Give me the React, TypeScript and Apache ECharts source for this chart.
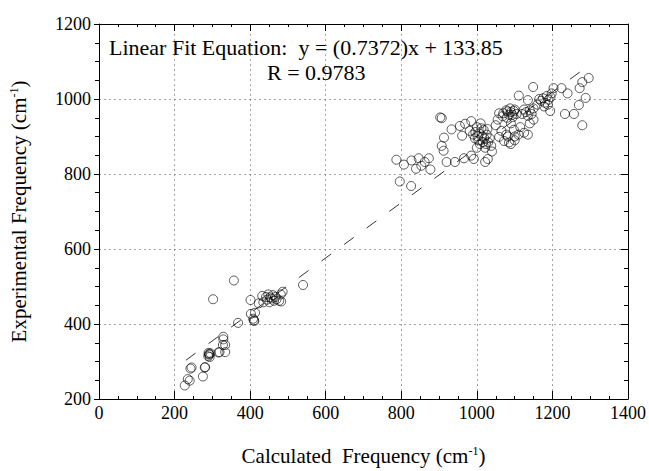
import React, { useEffect, useRef } from "react";
import * as echarts from "echarts";

const xTicks = [0, 200, 400, 600, 800, 1000, 1200, 1400];
const yTicks = [200, 400, 600, 800, 1000, 1200];

const lowCluster: number[][] = [
  [227, 236], [235, 253], [240, 249], [242, 281], [245, 284], [275, 260], [281, 285], [280, 284],
  [289, 314], [292, 318], [295, 322], [291, 320], [293, 312], [290, 323], [316, 324], [319, 325],
  [334, 325], [329, 359], [329, 366], [328, 344], [334, 344], [302, 466], [357, 516], [368, 403],
  [401, 464], [402, 427], [408, 414], [410, 410], [411, 408], [413, 430], [423, 455], [432, 475],
  [442, 472], [448, 479], [453, 471], [460, 477], [467, 472], [470, 466], [451, 458], [435, 458],
  [477, 462], [482, 460], [486, 486], [481, 479], [457, 468], [463, 462], [445, 465], [540, 504],
];

const midCluster: number[][] = [
  [796, 780], [826, 768], [787, 838], [807, 825], [827, 836], [839, 814], [846, 842], [862, 832],
  [873, 842], [877, 812], [853, 822], [903, 951], [907, 949], [913, 897], [907, 875], [912, 862],
  [920, 832], [933, 919], [942, 832], [955, 928], [961, 902], [966, 842], [969, 934], [981, 915],
  [985, 941], [985, 849], [992, 840], [1029, 840], [1022, 832], [990, 905], [996, 912], [1000, 925],
  [1004, 890], [1008, 880], [1010, 935], [1014, 900], [1018, 918], [1022, 870], [1026, 905], [1030, 885],
  [1034, 895], [1000, 870], [995, 895], [1006, 908], [1012, 922], [1020, 895], [1028, 920], [1038, 875],
  [1040, 860], [1002, 900], [1016, 885], [1024, 880], [1059, 899], [1072, 888], [1085, 884], [1100, 890],
  [1068, 954], [1081, 967], [1094, 958], [1059, 962], [1055, 945], [1050, 930], [1065, 915], [1078, 905],
];

const highCluster: number[][] = [
  [1149, 1032], [1111, 1009], [1135, 997], [1203, 1029], [1224, 1029], [1240, 1015], [1233, 960],
  [1257, 960], [1279, 930], [1270, 984], [1288, 1003], [1272, 1029], [1279, 1045], [1296, 1056],
  [1194, 968], [1198, 1015], [1170, 995], [1175, 1002], [1180, 990], [1185, 1008], [1190, 998],
  [1160, 985], [1165, 1000], [1178, 980], [1188, 985], [1195, 1005], [1120, 960], [1130, 965],
  [1140, 970], [1150, 975], [1135, 955], [1145, 960], [1125, 972], [1070, 962], [1078, 970],
  [1085, 958], [1090, 965], [1095, 952], [1100, 972], [1105, 960], [1080, 950], [1088, 975],
  [1098, 968], [1090, 935], [1098, 918], [1110, 905], [1135, 905], [1125, 910], [1100, 900],
  [1082, 900], [1090, 880], [1115, 925], [1140, 935], [1150, 945],
];

const fitLine: number[][] = [
  [230, 303.4],
  [1290, 1084.8],
];

const equationText = "Linear Fit Equation:  y = (0.7372)x + 133.85";
const rText = "R = 0.9783";

const FONT = "Liberation Serif, Times New Roman, DejaVu Serif, serif";

export default function App() {
  const ref = useRef<HTMLDivElement>(null);
  useEffect(() => {
    if (!ref.current) return;
    const chart = echarts.init(ref.current, undefined, { renderer: "svg" });
    const gridLine = { show: true, lineStyle: { color: "#666", width: 0.6, type: [2, 3] as any } };
    const axisLine = { show: true, onZero: false, lineStyle: { color: "#000", width: 1 } };
    const common = { type: "value" as const, interval: 200 };
    const sup = { fontSize: 12, verticalAlign: "top", lineHeight: 12, fontFamily: FONT, color: "#000" };
    chart.setOption({
      animation: false,
      backgroundColor: "#fff",
      textStyle: { fontFamily: FONT },
      grid: { left: 92, right: 20, top: 24, bottom: 66, containLabel: false },
      xAxis: [
        {
          ...common,
          min: xTicks[0],
          max: xTicks[xTicks.length - 1],
          position: "bottom",
          axisLine,
          axisTick: { show: true, inside: true, length: 8, lineStyle: { color: "#000" } },
          minorTick: { show: true, splitNumber: 4, length: 3, lineStyle: { color: "#000" } },
          splitLine: gridLine,
          axisLabel: { color: "#000", fontSize: 18, fontFamily: FONT, margin: 5, formatter: (v: number) => String(v) },
          name: "Calculated  Frequency (cm{sup|-1})",
          nameLocation: "middle",
          nameGap: 46,
          nameTextStyle: { color: "#000", fontSize: 21, fontFamily: FONT, rich: { sup } },
        },
        {
          ...common,
          min: xTicks[0],
          max: xTicks[xTicks.length - 1],
          position: "top",
          axisLine,
          axisTick: { show: true, inside: true, length: 7, lineStyle: { color: "#000" } },
          minorTick: { show: true, splitNumber: 4, length: 3, lineStyle: { color: "#000" } },
          splitLine: { show: false },
          axisLabel: { show: false },
        },
      ],
      yAxis: [
        {
          ...common,
          min: yTicks[0],
          max: yTicks[yTicks.length - 1],
          position: "left",
          axisLine,
          axisTick: { show: true, inside: false, length: 5, lineStyle: { color: "#000" } },
          minorTick: { show: true, splitNumber: 4, length: 4, lineStyle: { color: "#000" } },
          splitLine: gridLine,
          axisLabel: { color: "#000", fontSize: 18, fontFamily: FONT, margin: 8, formatter: (v: number) => String(v) },
          name: "Experimental Frequency (cm{sup|-1})",
          nameLocation: "middle",
          nameGap: 70,
          nameTextStyle: { color: "#000", fontSize: 21, fontFamily: FONT, rich: { sup } },
        },
        {
          ...common,
          min: yTicks[0],
          max: yTicks[yTicks.length - 1],
          position: "right",
          axisLine,
          axisTick: { show: true, inside: true, length: 7, lineStyle: { color: "#000" } },
          minorTick: { show: true, splitNumber: 4, length: 4, lineStyle: { color: "#000" } },
          splitLine: { show: false },
          axisLabel: { show: false },
        },
      ],
      series: [
        {
          type: "line",
          data: fitLine,
          symbol: "none",
          lineStyle: { color: "#000", width: 0.8, type: [12, 16] },
          z: 1,
        },
        ...[lowCluster, midCluster, highCluster].map((d) => ({
          type: "scatter",
          data: d,
          symbol: "circle",
          symbolSize: 9,
          itemStyle: { color: "rgba(0,0,0,0)", borderColor: "#000", borderWidth: 0.8 },
          z: 2,
        })),
      ],
      graphic: [
        {
          type: "text",
          left: 109,
          top: 36,
          style: { text: equationText, fontSize: 22, fontFamily: FONT, fill: "#000" },
        },
        {
          type: "text",
          left: 267,
          top: 61,
          style: { text: rText, fontSize: 22, fontFamily: FONT, fill: "#000" },
        },
      ],
    });
    return () => chart.dispose();
  }, []);
  return (
    <div
      ref={ref}
      style={{ position: "fixed", left: 0, top: 0, width: 649, height: 471, background: "#fff" }}
    />
  );
}
